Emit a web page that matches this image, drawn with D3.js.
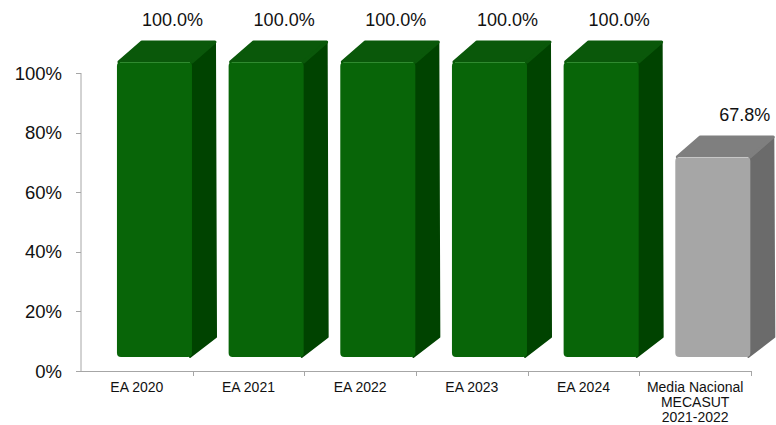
<!DOCTYPE html>
<html><head><meta charset="utf-8">
<script src="https://cdn.jsdelivr.net/npm/d3@7"></script>
<style>body{margin:0;background:#fff}svg{display:block}text{font-family:"Liberation Sans",Arial,sans-serif}</style>
</head><body><svg id="c" width="776" height="425"></svg>
<script>
const categories = ["EA 2020","EA 2021","EA 2022","EA 2023","EA 2024","Media Nacional|MECASUT|2021-2022"];
const values = [1.0, 1.0, 1.0, 1.0, 1.0, 0.678];
const valueLabels = ["100.0%","100.0%","100.0%","100.0%","100.0%","67.8%"];
const yTicks = [0, 0.2, 0.4, 0.6, 0.8, 1.0];
const isNational = [false,false,false,false,false,true];

const svg = d3.select("#c");
const x = d3.scaleBand().domain(categories).range([81, 751]).padding(0);
const y = d3.scaleLinear().domain([0, 1]).range([371, 73]);
const yBar = d3.scaleLinear().domain([0, 1]).range([357, 62]);
const dx = 24, dy = -20;

// axes
const axisColor = "#a6a6a6";
svg.append("line").attr("x1",81).attr("x2",81).attr("y1",y(1)).attr("y2",y(0)).attr("stroke",axisColor);
yTicks.forEach(t=>{
  svg.append("line").attr("x1",76).attr("x2",81).attr("y1",Math.round(y(t))+0.5).attr("y2",Math.round(y(t))+0.5).attr("stroke",axisColor);
  svg.append("text").attr("x",62).attr("y",y(t)+6.5).attr("text-anchor","end").attr("font-size",18.5).attr("fill","#111")
    .text(d3.format(".0%")(t));
});
svg.append("line").attr("x1",76).attr("x2",751).attr("y1",371.5).attr("y2",371.5).attr("stroke",axisColor);
categories.forEach((c,i)=>{
  const xs = x(c) + x.bandwidth();
  svg.append("line").attr("x1",Math.round(xs)+0.5).attr("x2",Math.round(xs)+0.5).attr("y1",371).attr("y2",376).attr("stroke",axisColor);
});

const colors = {
  green:{front:"#086508", top:"#0a580a", side:"#004300", hi:"#2f8a2f"},
  gray:{front:"#a6a6a6", top:"#7f7f7f", side:"#6b6b6b", hi:"#c8c8c8"}
};

categories.forEach((c,i)=>{
  const col = isNational[i] ? colors.gray : colors.green;
  const bw = x.bandwidth();
  const x0 = x(c) + bw*0.322, x1 = x0 + bw*0.672;
  const top = yBar(values[i]), bot = yBar(0);
  const g = svg.append("g");
  // side
  g.append("path").attr("d",`M${x1-2},${top+2}L${x1+dx-1},${top+dy+1}L${x1+dx},${bot+dy}L${x1-2},${bot}Z`)
    .attr("fill",col.side).attr("stroke",col.side).attr("stroke-width",2).attr("stroke-linejoin","round");
  // top
  g.append("path").attr("d",`M${x0+2},${top}L${x0+dx+1},${top+dy}L${x1+dx-1},${top+dy}L${x1},${top}Z`)
    .attr("fill",col.top).attr("stroke",col.top).attr("stroke-width",3).attr("stroke-linejoin","round");
  // front
  g.append("rect").attr("x",x0).attr("y",top).attr("width",x1-x0).attr("height",bot-top).attr("rx",4)
    .attr("fill",col.front);
  g.append("line").attr("x1",x0+3).attr("x2",x1-2).attr("y1",top+0.5).attr("y2",top+0.5).attr("stroke",col.hi).attr("stroke-width",1);
  // value label
  const lx = (x0+x1)/2 + 18 + (isNational[i] ? 14 : 0);
  svg.append("text").attr("x",lx).attr("y",top-36).attr("text-anchor","middle").attr("font-size",18).attr("fill","#111")
    .text(valueLabels[i]);
  // category label
  const lines = c.split("|");
  const t = svg.append("text").attr("text-anchor","middle").attr("font-size",14).attr("fill","#111");
  lines.forEach((ln,k)=>{
    t.append("tspan").attr("x",x(c)+bw/2).attr("y",392 + k*15).text(ln);
  });
});
</script></body></html>
